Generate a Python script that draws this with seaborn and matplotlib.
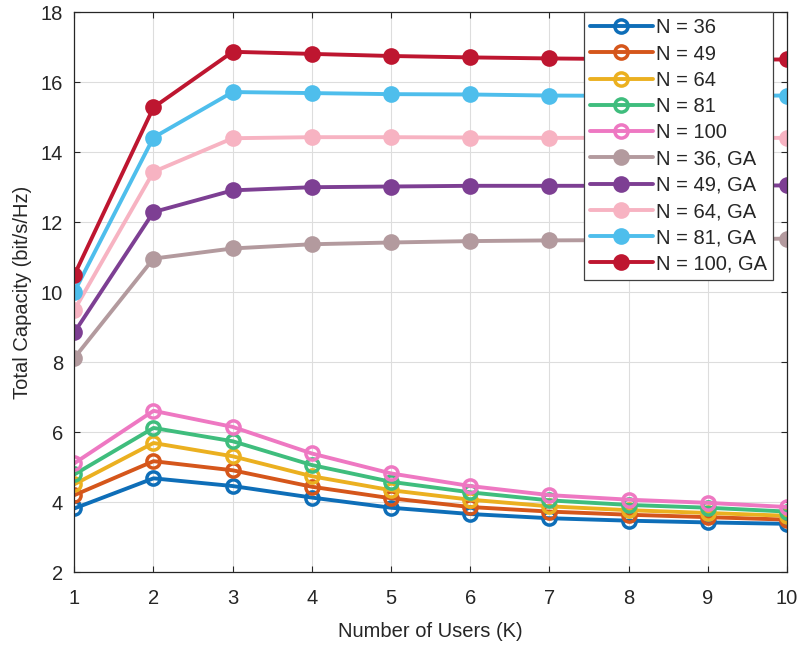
import numpy as np
import pandas as pd
import matplotlib
matplotlib.use("Agg")
import matplotlib.pyplot as plt
import seaborn as sns

# ----------------------------
# Data
# ----------------------------
users = [1, 2, 3, 4, 5, 6, 7, 8, 9, 10]

n36 = [3.82, 4.68, 4.46, 4.13, 3.84, 3.66, 3.54, 3.47, 3.42, 3.38]
n49 = [4.20, 5.17, 4.91, 4.44, 4.11, 3.86, 3.73, 3.64, 3.57, 3.50]
n64 = [4.51, 5.69, 5.31, 4.74, 4.34, 4.07, 3.88, 3.77, 3.69, 3.61]
n81 = [4.79, 6.12, 5.74, 5.06, 4.58, 4.28, 4.05, 3.92, 3.84, 3.73]
n100 = [5.11, 6.61, 6.15, 5.39, 4.82, 4.46, 4.20, 4.07, 3.98, 3.86]

n36_ga = [8.12, 10.96, 11.25, 11.37, 11.42, 11.46, 11.48, 11.49, 11.51, 11.53]
n49_ga = [8.85, 12.29, 12.91, 13.00, 13.02, 13.04, 13.04, 13.04, 13.05, 13.05]
n64_ga = [9.49, 13.44, 14.40, 14.43, 14.43, 14.42, 14.41, 14.41, 14.41, 14.41]
n81_ga = [10.01, 14.42, 15.72, 15.69, 15.66, 15.65, 15.62, 15.61, 15.61, 15.62]
n100_ga = [10.49, 15.28, 16.87, 16.81, 16.75, 16.71, 16.68, 16.66, 16.65, 16.65]

labels = ["N = 36", "N = 49", "N = 64", "N = 81", "N = 100",
          "N = 36, GA", "N = 49, GA", "N = 64, GA", "N = 81, GA", "N = 100, GA"]
series = [n36, n49, n64, n81, n100, n36_ga, n49_ga, n64_ga, n81_ga, n100_ga]
colors = ["#0E6EB8", "#D5561B", "#EBB020", "#3FBD7D", "#EE78C2",
          "#B39A9E", "#7D3F93", "#F7B3C2", "#4EBEEC", "#BE1630"]
filled = [False] * 5 + [True] * 5

# ----------------------------
# General Settings
# ----------------------------
sns.set_style("ticks")
plt.rcParams["font.family"] = ["Liberation Sans", "DejaVu Sans"]

fig, ax = plt.subplots(figsize=(7.99, 6.45), dpi=100)
fig.subplots_adjust(left=0.093, right=0.985, top=0.981, bottom=0.113)

for lab, vals, col, full in zip(labels, series, colors, filled):
    df = pd.DataFrame({"K": users, "C": vals})
    sns.lineplot(data=df, x="K", y="C", ax=ax, color=col, label=lab,
                 linewidth=2.8, marker="o", markersize=9.5,
                 markerfacecolor=col if full else "none",
                 markeredgecolor=col, markeredgewidth=2.5)

ax.set_xlim(1, 10)
ax.set_ylim(2, 18)
ax.set_xticks(users)
ax.set_yticks(np.arange(2, 19, 2))
ax.grid(True, color="#dddddd", linewidth=0.8)
ax.set_axisbelow(True)
ax.tick_params(direction="in", top=True, right=True, length=4,
               labelsize=14.5, colors="#262626")
ax.tick_params(axis="x", pad=12)
ax.tick_params(axis="y", pad=8)
for s in ax.spines.values():
    s.set_color("#262626")
    s.set_linewidth(0.9)

ax.set_xlabel("Number of Users (K)", fontsize=14.5, color="#262626", labelpad=10)
ax.set_ylabel("Total Capacity (bit/s/Hz)", fontsize=14.5, color="#262626", labelpad=6)

leg = ax.legend(loc="upper right", bbox_to_anchor=(0.980, 1.0),
                fontsize=14.5, frameon=True, fancybox=False, framealpha=1,
                edgecolor="#404040", handlelength=3.1, handletextpad=0.15,
                labelspacing=0.36, borderpad=0.3, borderaxespad=0)
leg.get_frame().set_linewidth(0.9)

plt.savefig("out.png", dpi=100)
